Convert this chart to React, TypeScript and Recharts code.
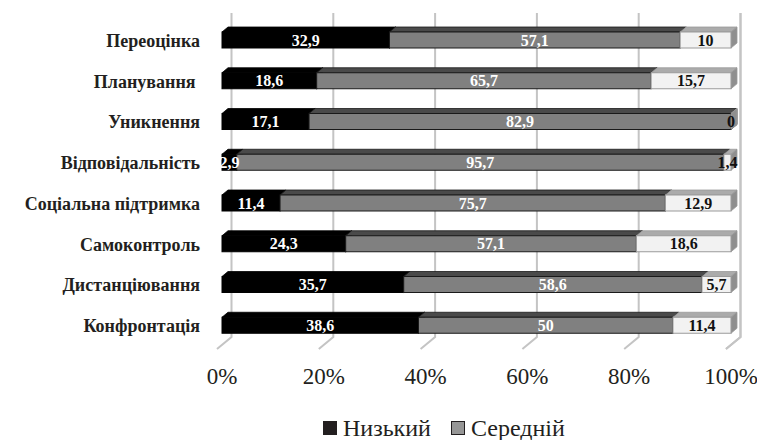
import { BarChart, Bar, XAxis, YAxis, CartesianGrid, LabelList, Legend } from 'recharts';

const categories = [
  'Переоцінка',
  'Планування\u00a0',
  'Уникнення',
  'Відповідальність',
  'Соціальна підтримка',
  'Самоконтроль',
  'Дистанціювання',
  'Конфронтація',
];
const low = [32.9, 18.6, 17.1, 2.9, 11.4, 24.3, 35.7, 38.6];
const mid = [57.1, 65.7, 82.9, 95.7, 75.7, 57.1, 58.6, 50];
const high = [10, 15.7, 0, 1.4, 12.9, 18.6, 5.7, 11.4];
const seriesNames = ['Низький', 'Середній', 'Високий'];
const xTicks = [0, 20, 40, 60, 80, 100];

const data = categories.map((name, i) => ({ name, low: low[i], mid: mid[i], high: high[i] }));

const serif = "'Liberation Serif', 'Times New Roman', Times, 'DejaVu Serif', serif";
const DX = 6;
const DY = 5;

// front face + top + right side, Excel-like 3D bar
const Bar3D = (props: any) => {
  const { x, y, width, height, front, top, side, stroke } = props;
  if (x == null || y == null) return null;
  const w = Math.max(0, width);
  return (
    <g>
      <polygon
        points={`${x},${y} ${x + w},${y} ${x + w + DX},${y - DY} ${x + DX},${y - DY}`}
        fill={top}
        stroke={stroke}
        strokeWidth={0.8}
      />
      <polygon
        points={`${x + w},${y} ${x + w + DX},${y - DY} ${x + w + DX},${y + height - DY} ${x + w},${y + height}`}
        fill={side}
        stroke={stroke}
        strokeWidth={0.8}
      />
      <rect x={x} y={y} width={w} height={height} fill={front} stroke={stroke} strokeWidth={1} />
    </g>
  );
};

const GridLine = (props: any) => {
  const { x1, y1, y2 } = props;
  const bx = x1 + 9.5;
  return (
    <g key={props.key}>
      <polyline
        points={`${bx},${y1 - 7} ${bx},${y2 - 9} ${x1 - 5},${y2 + 3}`}
        fill="none"
        stroke="#c4c4c4"
        strokeWidth={2}
      />
    </g>
  );
};

const fmt = (v: any) => String(v).replace('.', ',');

const LegendBox = () => (
  <div
    style={{
      height: 40,
      display: 'flex',
      alignItems: 'center',
      paddingLeft: 323,
      paddingTop: 16,
      boxSizing: 'border-box',
      fontFamily: serif,
      fontSize: 24,
      color: '#231f20',
    }}
  >
    {[
      { name: seriesNames[0], fill: '#231f20' },
      { name: seriesNames[1], fill: '#969696' },
    ].map((it, i) => (
      <span key={i} style={{ display: 'flex', alignItems: 'center', marginRight: 20 }}>
        <span
          style={{
            width: 12,
            height: 12,
            background: it.fill,
            border: '1px solid #231f20',
            marginRight: 6,
            display: 'inline-block',
          }}
        />
        {it.name}
      </span>
    ))}
  </div>
);

export default function App() {
  return (
    <div style={{ position: 'absolute', left: 0, top: 0, background: '#fff', fontFamily: serif }}>
      <BarChart
        width={757}
        height={440}
        data={data}
        layout="vertical"
        margin={{ top: 20, right: 26, bottom: 0, left: 0 }}
        barSize={16}
        style={{ fontFamily: serif }}
      >
        <CartesianGrid horizontal={false} vertical={GridLine} />
        <XAxis
          type="number"
          domain={[0, 100]}
          ticks={xTicks}
          tickFormatter={(v) => `${v}%`}
          axisLine={false}
          tickLine={false}
          tickSize={0}
          tickMargin={22}
          height={54}
          interval={0}
          tick={{ fontFamily: serif, fontSize: 23, fill: '#231f20' }}
        />
        <YAxis
          type="category"
          dataKey="name"
          width={222}
          axisLine={false}
          tickLine={false}
          tickSize={0}
          tickMargin={22}
          interval={0}
          tick={{ fontFamily: serif, fontSize: 18, fontWeight: 'bold', fill: '#231f20' }}
        />
        <Legend verticalAlign="bottom" content={LegendBox} />
        <Bar
          dataKey="low"
          name={seriesNames[0]}
          stackId="a"
          fill="#000"
          isAnimationActive={false}
          shape={(p: any) => <Bar3D {...p} front="#000" top="#000" side="#000" stroke="#000" />}
        >
          <LabelList dataKey="low" position="center" formatter={fmt} fill="#fff" fontFamily={serif} fontSize={16} fontWeight="bold" />
        </Bar>
        <Bar
          dataKey="mid"
          name={seriesNames[1]}
          stackId="a"
          fill="#808080"
          isAnimationActive={false}
          shape={(p: any) => <Bar3D {...p} front="#808080" top="#4a4a4a" side="#5a5a5a" stroke="#1a1a1a" />}
        >
          <LabelList dataKey="mid" position="center" formatter={fmt} fill="#fff" fontFamily={serif} fontSize={16} fontWeight="bold" />
        </Bar>
        <Bar
          dataKey="high"
          name={seriesNames[2]}
          stackId="a"
          fill="#f2f2f2"
          isAnimationActive={false}
          shape={(p: any) => <Bar3D {...p} front="#f2f2f2" top="#ababab" side="#8f8f8f" stroke="#9a9a9a" />}
        >
          <LabelList dataKey="high" position="center" formatter={fmt} fill="#111" fontFamily={serif} fontSize={16} fontWeight="bold" />
        </Bar>
      </BarChart>
    </div>
  );
}
